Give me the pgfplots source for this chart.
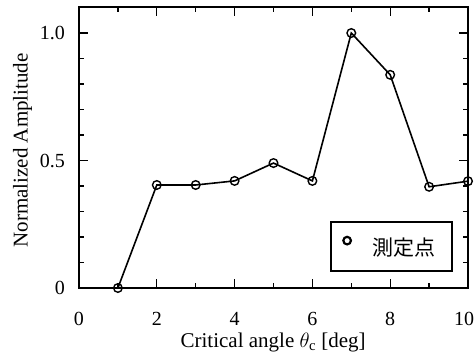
\documentclass[border=0pt]{standalone}
\usepackage{fontspec}
\setmainfont{Liberation Serif}
\newfontfamily\cjk{Noto Sans CJK JP}
\usepackage{pgfplots}
\pgfplotsset{compat=1.18}
\begin{document}
\begin{tikzpicture}
\useasboundingbox (-79pt,-72pt) rectangle (395pt,288pt);
\begin{axis}[
  at={(0pt,0pt)}, anchor=south west,
  scale only axis, width=389pt, height=281pt,
  xmin=0, xmax=10, ymin=0, ymax=1.102,
  xtick={0,2,...,10}, xticklabels={0,2,4,6,8,{\hspace*{-8pt}10}}, minor x tick num=1,
  ytick={0,0.5,1.0}, yticklabels={0,0.5,1.0}, minor y tick num=4,
  tick align=inside,
  major tick length=9pt, minor tick length=5pt,
  axis line style={line width=1.8pt},
  every tick/.style={line width=1.4pt, black},
  tick label style={font=\fontsize{20}{22}\selectfont},
  /pgf/number format/assume math mode=true,
  xticklabel style={anchor=base, inner sep=0pt, yshift=-37pt},
  yticklabel style={anchor=east, inner sep=0pt, xshift=-14pt},
  label style={font=\fontsize{21}{24}\selectfont},
  xlabel={Critical angle $\theta_{\mathrm{c}}$ [deg]},
  ylabel={Normalized Amplitude},
  xlabel style={at={(axis description cs:0.499,-0.21)}, anchor=base},
  ylabel style={at={(axis description cs:-0.145,0.49)}, anchor=center},
  clip=false,
  legend style={at={(rel axis cs:0.961,0.057)}, anchor=south east,
    draw=black, line width=1.6pt, inner xsep=11pt, inner ysep=14pt,
    font=\cjk\fontsize{21}{24}\selectfont, nodes={inner sep=0pt},
    /tikz/every odd column/.append style={column sep=20pt}},
  legend image code/.code={\draw[line width=2.2pt, fill=white] (4.5pt,7pt) circle (3.8pt);},
]
\addplot[black, line width=1.6pt, mark=o, mark size=4.3pt, mark options={fill=white, line width=1.4pt}]
  coordinates {(1,0) (2,0.404) (3,0.404) (4,0.42) (5,0.49) (6,0.42) (7,1.0) (8,0.836) (9,0.397) (10,0.419)};
\addlegendentry{測定点\hspace*{6pt}}
\end{axis}
\end{tikzpicture}
\end{document}
